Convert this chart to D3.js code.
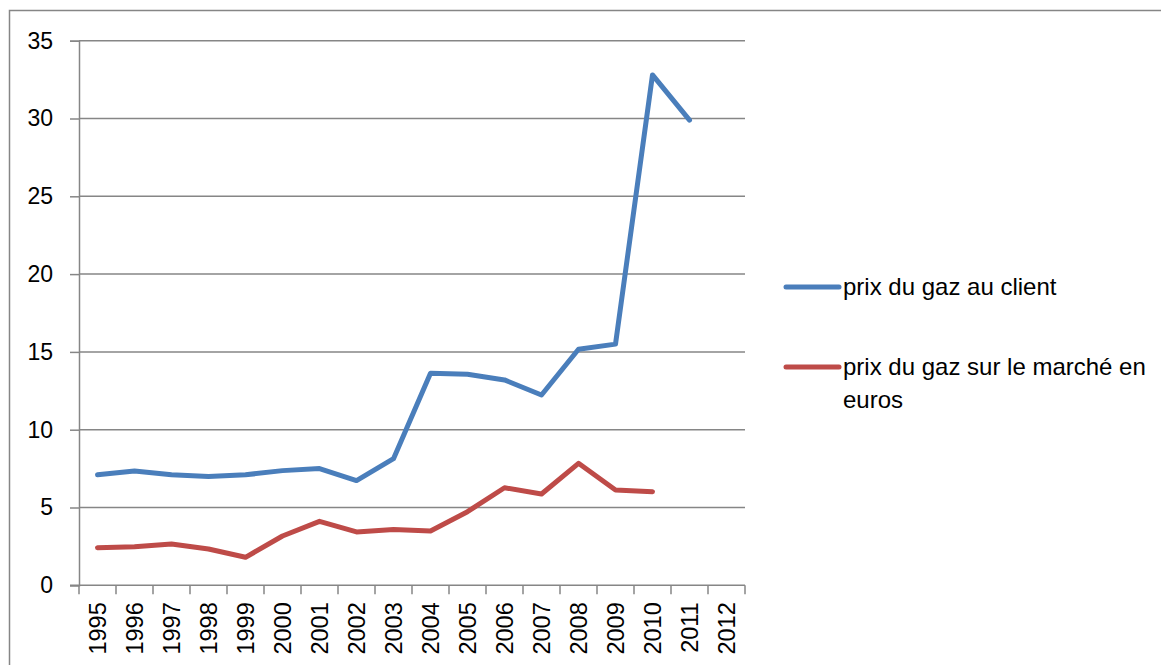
<!DOCTYPE html>
<html>
<head>
<meta charset="utf-8">
<script src="https://cdn.jsdelivr.net/npm/d3@7"></script>
<style>
  body { margin: 0; background: #fff; }
  text { font-family: "Liberation Sans", Arial, sans-serif; fill: #000; }
</style>
</head>
<body>
<svg id="chart" width="1161" height="665"></svg>
<script>
// categories (years) and the two series
var years = ["1995", "1996", "1997", "1998", "1999", "2000", "2001", "2002", "2003",
             "2004", "2005", "2006", "2007", "2008", "2009", "2010", "2011", "2012"];

var prixClient = [7.1, 7.35, 7.1, 7.0, 7.1, 7.37, 7.5, 6.73, 8.14,
                  13.63, 13.56, 13.2, 12.23, 15.17, 15.5, 32.8, 29.9, null];

var prixMarche = [2.42, 2.48, 2.65, 2.33, 1.8, 3.17, 4.11, 3.43, 3.58,
                  3.49, 4.73, 6.27, 5.87, 7.84, 6.13, 6.02, null, null];

var yTicks = [0, 5, 10, 15, 20, 25, 30, 35];

var seriesNames = ["prix du gaz au client", "prix du gaz sur le marché en euros"];
var seriesColors = ["#4A7EBB", "#BE4B48"];

var svg = d3.select("#chart");

// outer chart border (only the top and left show in the frame)
svg.append("rect")
    .attr("x", 9.5).attr("y", 10.5)
    .attr("width", 1300).attr("height", 800)
    .attr("fill", "none")
    .attr("stroke", "#868686")
    .attr("stroke-width", 1.5);

var plotLeft = 79, plotRight = 745, plotTop = 40.7, plotBottom = 585.3;

var x = d3.scaleBand().domain(years).range([plotLeft, plotRight]);
var y = d3.scaleLinear().domain([0, 35]).range([plotBottom, plotTop]);

// horizontal gridlines
svg.append("g")
    .selectAll("line")
    .data(yTicks.filter(function(d) { return d > 0; }))
    .join("line")
    .attr("x1", plotLeft).attr("x2", plotRight)
    .attr("y1", function(d) { return y(d); })
    .attr("y2", function(d) { return y(d); })
    .attr("stroke", "#868686")
    .attr("stroke-width", 1.5);

// y axis
var yAxis = svg.append("g")
    .attr("transform", "translate(" + plotLeft + ",0)")
    .call(d3.axisLeft(y).tickValues(yTicks).tickSize(9).tickPadding(17));
yAxis.select(".domain").attr("stroke", "#868686").attr("stroke-width", 1.5);
yAxis.selectAll(".tick line").attr("stroke", "#868686").attr("stroke-width", 1.5);
yAxis.selectAll(".tick text")
    .style("font-family", "Liberation Sans, Arial, sans-serif")
    .style("font-size", "23px")
    .attr("fill", "#000");

// x axis: ticks between categories
var xAxis = svg.append("g")
    .attr("transform", "translate(0," + plotBottom + ")");
xAxis.append("line")
    .attr("x1", plotLeft - 9).attr("x2", plotRight)
    .attr("stroke", "#868686").attr("stroke-width", 1.5);
xAxis.selectAll("line.tk")
    .data(years.concat(["end"]))
    .join("line")
    .attr("class", "tk")
    .attr("x1", function(d, i) { return plotLeft + i * x.bandwidth(); })
    .attr("x2", function(d, i) { return plotLeft + i * x.bandwidth(); })
    .attr("y1", 0).attr("y2", 9)
    .attr("stroke", "#868686").attr("stroke-width", 1.5);
xAxis.selectAll("text")
    .data(years)
    .join("text")
    .attr("transform", function(d) {
        return "translate(" + (x(d) + x.bandwidth() / 2) + ",17) rotate(-90)";
    })
    .attr("text-anchor", "end")
    .attr("dy", "0.35em")
    .style("font-size", "23.5px")
    .text(function(d) { return d; });

// series lines
var line = d3.line()
    .defined(function(d) { return d != null; })
    .x(function(d, i) { return x(years[i]) + x.bandwidth() / 2; })
    .y(function(d) { return y(d); });

[prixClient, prixMarche].forEach(function(values, k) {
    svg.append("path")
        .attr("d", line(values))
        .attr("fill", "none")
        .attr("stroke", seriesColors[k])
        .attr("stroke-width", 5)
        .attr("stroke-linejoin", "round")
        .attr("stroke-linecap", "round");
});

// legend
var legendY = [287, 367];
var legend = svg.append("g");
seriesNames.forEach(function(name, k) {
    legend.append("line")
        .attr("x1", 786).attr("x2", 839)
        .attr("y1", legendY[k]).attr("y2", legendY[k])
        .attr("stroke", seriesColors[k])
        .attr("stroke-width", 5)
        .attr("stroke-linecap", "round");
    var t = legend.append("text")
        .attr("x", 843)
        .attr("y", legendY[k] + 8)
        .style("font-size", "24px");
    if (k === 1) {
        t.append("tspan").attr("x", 843).text("prix du gaz sur le marché en");
        t.append("tspan").attr("x", 843).attr("dy", 33).text("euros");
    } else {
        t.text(name);
    }
});
</script>
</body>
</html>
